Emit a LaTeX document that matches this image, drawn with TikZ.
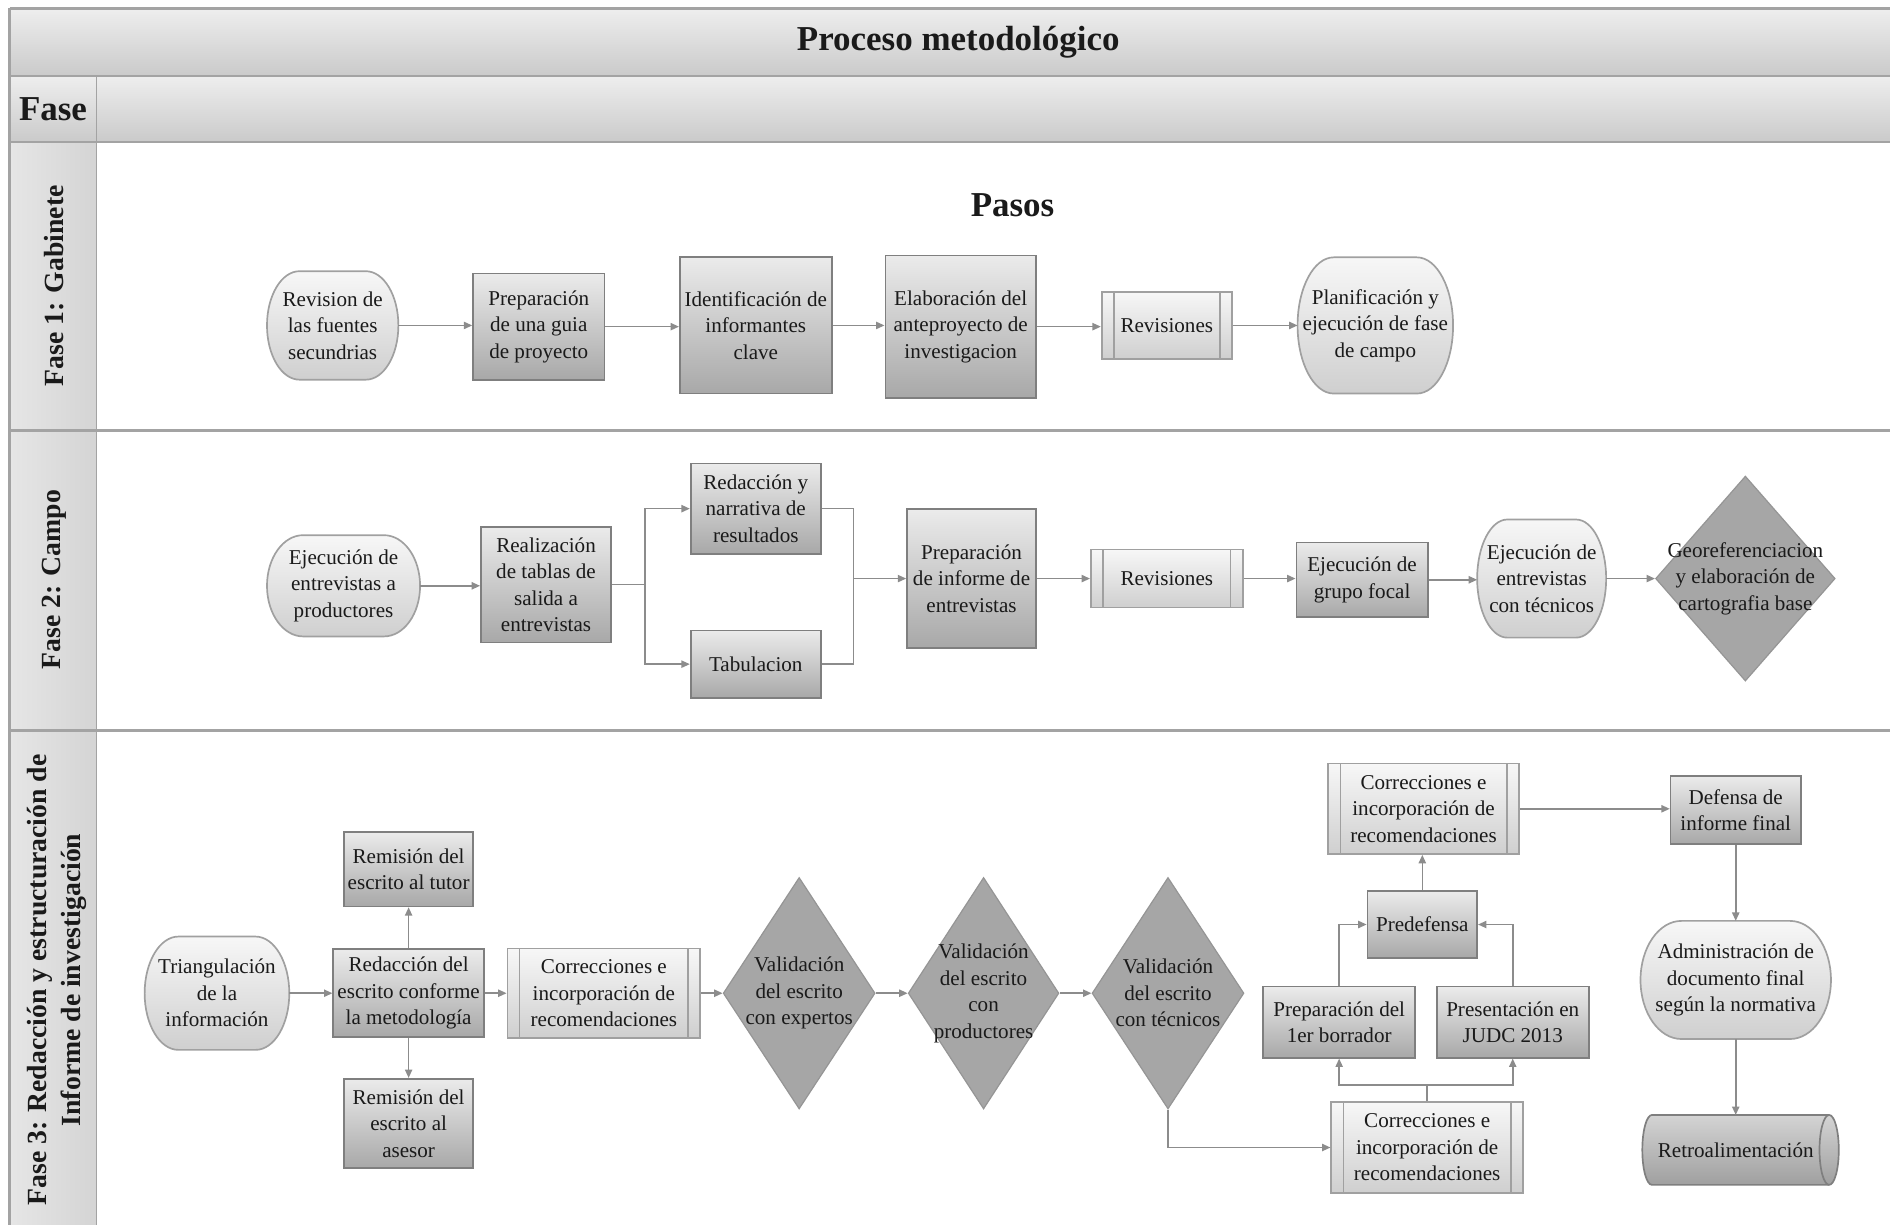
\documentclass[tikz,border=0pt]{standalone}
\usepackage{fontspec}
\setmainfont{Liberation Serif}
\usetikzlibrary{shapes.geometric,arrows.meta,calc}
\definecolor{hdtop}{HTML}{EEEEEE}
\definecolor{hdbot}{HTML}{CACACA}
\definecolor{framec}{HTML}{A3A3A3}
\definecolor{colL}{HTML}{E6E6E6}
\definecolor{colR}{HTML}{D4D4D4}
\definecolor{dtop}{HTML}{EBEBEB}
\definecolor{dbot}{HTML}{A8A8A8}
\definecolor{dline}{HTML}{7F7F7F}
\definecolor{ltop}{HTML}{F7F7F7}
\definecolor{lbot}{HTML}{CFCFCF}
\definecolor{lline}{HTML}{A0A0A0}
\definecolor{diafill}{HTML}{A6A6A6}
\definecolor{dialine}{HTML}{959595}
\definecolor{arrowc}{HTML}{8C8C8C}
\definecolor{txt}{HTML}{1A1A1A}
\newcommand\nodefnt{\fontsize{17.5}{22}\selectfont}
\newcommand\headfnt{\bfseries\fontsize{29}{34}\selectfont}
\newcommand\lanefnt{\bfseries\fontsize{23}{28}\selectfont}
% capsule outline with half-ellipse ends around a placeholder node
\newcommand\capsuleshape[4]{%
  \path[#4] ([xshift=#2]#1.north west) -- ([xshift=-#2]#1.north east)
    arc[start angle=90,end angle=-90,x radius=#2,y radius=#3]
    -- ([xshift=#2]#1.south west)
    arc[start angle=270,end angle=90,x radius=#2,y radius=#3] -- cycle;}
\begin{document}
\begin{tikzpicture}[x=1pt,y=-1pt,
  conn/.style={draw=arrowc, line width=1.3pt},
  arr/.style={conn, -{Triangle[length=7pt,width=6pt]}},
  dbox/.style={draw=dline, line width=1.4pt, top color=dtop, bottom color=dbot,
    align=center, font=\nodefnt, text=txt, inner sep=1pt},
  geom/.style={inner sep=0pt, outer sep=0pt},
  termfill/.style={draw=lline, line width=1.4pt, top color=ltop, bottom color=lbot},
  cylfill/.style={draw=dline, line width=1.4pt, top color=dtop!90!black, bottom color=dbot!95!black},
  predef/.style={draw=lline, line width=1.4pt, top color=ltop, bottom color=lbot,
    align=center, font=\nodefnt, text=txt, inner sep=1pt,
    path picture={
      \draw[lline, line width=1.3pt] ([xshift=10pt]path picture bounding box.north west) -- ([xshift=10pt]path picture bounding box.south west);
      \draw[lline, line width=1.3pt] ([xshift=-10pt]path picture bounding box.north east) -- ([xshift=-10pt]path picture bounding box.south east);
    }},
  dia/.style={diamond, draw=dialine, fill=diafill, line width=1pt, inner sep=0pt},
  lbl/.style={font=\nodefnt, align=center, text=txt},
]
\useasboundingbox (0,0) rectangle (1568,1016);
\clip (0,0) rectangle (1568,1016);
\fill[white] (0,0) rectangle (1568,1016);
% header bands
\shade[top color=hdtop, bottom color=hdbot] (8,7) rectangle (1580,63);
\shade[top color=hdtop, bottom color=hdbot] (8,63) rectangle (1580,118);
\shade[left color=colL, right color=colR] (8,118) rectangle (80,1030);
\draw[framec, line width=2pt] (8,7) -- (1580,7);
\draw[framec, line width=2pt] (8,63) -- (1580,63);
\draw[framec, line width=2pt] (8,118) -- (1580,118);
\draw[framec, line width=2pt] (8,357) -- (1580,357);
\draw[framec, line width=2pt] (8,606) -- (1580,606);
\draw[framec, line width=2pt] (8,7) -- (8,1030);
\draw[framec, line width=1.5pt] (80,63) -- (80,1030);

\node[font=\headfnt, text=txt] (title) at (795,35) {Proceso metodológico};
\node[font=\headfnt, text=txt] (fase) at (44,91) {Fase};
\node[font=\headfnt, text=txt] (pasos) at (840,170) {Pasos};
\node[font=\lanefnt, text=txt, rotate=90] (lane1) at (45,237) {Fase 1: Gabinete};
\node[font=\lanefnt, text=txt, rotate=90] (lane2) at (45,481) {Fase 2: Campo};
\node[font=\lanefnt, text=txt, rotate=90, align=center] (lane3) at (47,813)
  {Fase 3: Redacción y estructuración de\\Informe de investigación};

% ---------- Fase 1
\node[geom, minimum width=109pt, minimum height=90pt] (n11) at (276,270) {};
\capsuleshape{n11}{27pt}{45pt}{termfill}
\node[lbl] (n11t) at (n11.center) {Revision de\\las fuentes\\secundrias};
\node[dbox, minimum width=109pt, minimum height=88pt] (n12) at (447,271) {Preparación\\de una guia\\de proyecto};
\node[dbox, minimum width=126pt, minimum height=113pt] (n13) at (627,270) {Identificación de\\informantes\\clave};
\node[dbox, minimum width=125pt, minimum height=118pt] (n14) at (797,271) {Elaboración del\\anteproyecto de\\investigacion};
\node[predef, minimum width=108pt, minimum height=56pt] (n15) at (968,270) {Revisiones};
\node[geom, minimum width=129pt, minimum height=113pt] (n16) at (1141,270) {};
\capsuleshape{n16}{30pt}{56.5pt}{termfill}
\node[lbl] (n16t) at (n16.center) {Planificación y\\ejecución de fase\\de campo};
\draw[arr] (n11.east) -- (n11.east -| n12.west);
\draw[arr] (n12.east) -- (n12.east -| n13.west);
\draw[arr] (n13.east) -- (n13.east -| n14.west);
\draw[arr] (n14.east) -- (n14.east -| n15.west);
\draw[arr] (n15.east) -- (n15.east -| n16.west);

% ---------- Fase 2
\node[geom, minimum width=127pt, minimum height=84pt] (n21) at (285,486) {};
\capsuleshape{n21}{30pt}{42pt}{termfill}
\node[lbl] (n21t) at (n21.center) {Ejecución de\\entrevistas a\\productores};
\node[dbox, minimum width=108pt, minimum height=96pt] (n22) at (453,485) {Realización\\de tablas de\\salida a\\entrevistas};
\node[dbox, minimum width=108pt, minimum height=75pt] (n23) at (627,422) {Redacción y\\narrativa de\\resultados};
\node[dbox, minimum width=108pt, minimum height=56pt] (n24) at (627,551) {Tabulacion};
\node[dbox, minimum width=107pt, minimum height=115pt] (n25) at (806,480) {Preparación\\de informe de\\entrevistas};
\node[predef, minimum width=126pt, minimum height=48pt] (n26) at (968,480) {Revisiones};
\node[dbox, minimum width=109pt, minimum height=62pt] (n27) at (1130,481) {Ejecución de\\grupo focal};
\node[geom, minimum width=107pt, minimum height=98pt] (n28) at (1279,480) {};
\capsuleshape{n28}{25pt}{49pt}{termfill}
\node[lbl] (n28t) at (n28.center) {Ejecución de\\entrevistas\\con técnicos};
\node[dia, minimum width=149pt, minimum height=170pt,
  label={[lbl]center:{Georeferenciacion\\y elaboración de\\cartografia base}}] (n29) at (1448,480) {};
\draw[arr] (n21.east) -- (n21.east -| n22.west);
\coordinate (b1) at (535,485);
\draw[conn] (n22.east) -- (b1);
\draw[arr] (b1) |- (n23.west);
\draw[arr] (b1) |- (n24.west);
\coordinate (m1) at (708,480);
\draw[conn] (n23.east) -| (m1);
\draw[conn] (n24.east) -| (m1);
\draw[arr] (m1) -- (n25.west);
\draw[arr] (n25.east) -- (n25.east -| n26.west);
\draw[arr] (n26.east) -- (n26.east -| n27.west);
\draw[arr] (n27.east) -- (n27.east -| n28.west);
\draw[arr] (n28.east) -- (n28.east -| n29.west);

% ---------- Fase 3
\node[geom, minimum width=120pt, minimum height=94pt] (n31) at (180,824) {};
\capsuleshape{n31}{28pt}{47pt}{termfill}
\node[lbl] (n31t) at (n31.center) {Triangulación\\de la\\información};
\node[dbox, minimum width=125pt, minimum height=73pt] (n32) at (339,824) {Redacción del\\escrito conforme\\la metodología};
\node[dbox, minimum width=107pt, minimum height=62pt] (n33) at (339,721) {Remisión del\\escrito al tutor};
\node[dbox, minimum width=107pt, minimum height=74pt] (n34) at (339,932) {Remisión del\\escrito al\\asesor};
\node[predef, minimum width=160pt, minimum height=74pt] (n35) at (501,824) {Correcciones e\\incorporación de\\recomendaciones};
\node[dia, minimum width=126pt, minimum height=192pt,
  label={[lbl]center:{Validación\\del escrito\\con expertos}}] (n36) at (663,824) {};
\node[dia, minimum width=125pt, minimum height=192pt,
  label={[lbl]center:{Validación\\del escrito\\con\\productores}}] (n37) at (816,824) {};
\node[dia, minimum width=126pt, minimum height=192pt,
  label={[lbl]center:{Validación\\del escrito\\con técnicos}}] (n38) at (969,824) {};
\node[predef, minimum width=159pt, minimum height=75pt] (n39) at (1184,952) {Correcciones e\\incorporación de\\recomendaciones};
\node[dbox, minimum width=126pt, minimum height=59pt] (n310) at (1111,848) {Preparación del\\1er borrador};
\node[dbox, minimum width=126pt, minimum height=59pt] (n311) at (1255,848) {Presentación en\\JUDC 2013};
\node[dbox, minimum width=91pt, minimum height=56pt] (n312) at (1180,767) {Predefensa};
\node[predef, minimum width=158pt, minimum height=75pt] (n313) at (1181,671) {Correcciones e\\incorporación de\\recomendaciones};
\node[dbox, minimum width=108pt, minimum height=56pt] (n314) at (1440,672) {Defensa de\\informe final};
\node[geom, minimum width=158pt, minimum height=98pt] (n315) at (1440,813) {};
\capsuleshape{n315}{34pt}{49pt}{termfill}
\node[lbl] (n315t) at (n315.center) {Administración de\\documento final\\según la normativa};
\node[geom, minimum width=163pt, minimum height=58pt] (n316) at (1444,954) {};
\capsuleshape{n316}{8pt}{29pt}{cylfill}
\draw[dline, line width=1.4pt] ([xshift=-8pt]n316.north east) arc[start angle=90,end angle=270,x radius=8pt,y radius=29pt];
\node[lbl] (n316t) at ([xshift=-4pt]n316.center) {Retroalimentación};

\draw[arr] (n31.east) -- (n31.east -| n32.west);
\draw[arr] (n32.north) -- (n33.south);
\draw[arr] (n32.south) -- (n34.north);
\draw[arr] (n32.east) -- (n32.east -| n35.west);
\draw[arr] (n35.east) -- (n36.west);
\draw[arr] (n36.east) -- (n37.west);
\draw[arr] (n37.east) -- (n38.west);
\draw[arr] (n38.south) |- (n39.west);
\coordinate (j1) at (1184,900);
\draw[conn] (n39.north) -- (j1);
\draw[arr] (j1) -| (n310.south);
\draw[arr] (j1) -| (n311.south);
\draw[arr] (n310.north) |- (n312.west);
\draw[arr] (n311.north) |- (n312.east);
\draw[arr] (n312.north) -- (n312.north |- n313.south);
\draw[arr] (n313.east) -- (n313.east -| n314.west);
\draw[arr] (n314.south) -- (n315.north);
\draw[arr] (n315.south) -- (n315.south |- n316.north);
\end{tikzpicture}
\end{document}
